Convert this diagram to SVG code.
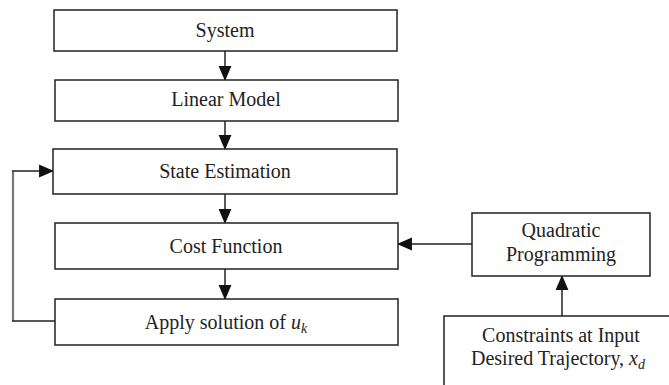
<svg xmlns="http://www.w3.org/2000/svg" width="669" height="385" viewBox="0 0 669 385">
<style>
.box{fill:#fff;stroke:#222;stroke-width:1.5}
.t{font-family:'Liberation Serif','DejaVu Serif',Tinos,serif;font-size:20px;fill:#222;text-anchor:middle}
.c{fill:none;stroke:#222;stroke-width:1.5}
.g{fill:none;stroke:#777;stroke-width:2.2}
</style>
<defs>
<marker id="ah" markerUnits="userSpaceOnUse" markerWidth="15" markerHeight="14" viewBox="0 0 14 12" refX="13" refY="6" orient="auto">
<path d="M0,0 L14,6 L0,12 Z" fill="#111"/>
</marker>
</defs>
<rect width="669" height="385" fill="#fff"/>
<g id="connectors">
<line class="c" x1="225" y1="51" x2="225" y2="80" marker-end="url(#ah)"/>
<line class="c" x1="225" y1="121" x2="225" y2="149" marker-end="url(#ah)"/>
<line class="c" x1="225" y1="194" x2="225" y2="223" marker-end="url(#ah)"/>
<line class="c" x1="225" y1="269" x2="225" y2="299" marker-end="url(#ah)"/>
<line class="c" x1="472" y1="244" x2="398" y2="244" marker-end="url(#ah)"/>
<line class="c" x1="562" y1="316" x2="562" y2="276" marker-end="url(#ah)"/>
<line class="g" x1="13" y1="321" x2="13" y2="171"/>
<line class="c" x1="55" y1="321" x2="12" y2="321"/>
<line class="c" x1="12" y1="171" x2="53" y2="171" marker-end="url(#ah)"/>
</g>
<g id="system">
<rect class="box" x="54" y="10" width="343" height="41"/>
<text class="t" x="225" y="37" font-family="Liberation Serif, serif">System</text>
</g>
<g id="linear-model">
<rect class="box" x="55" y="80" width="343" height="41"/>
<text class="t" x="226" y="106" font-family="Liberation Serif, serif">Linear Model</text>
</g>
<g id="state-estimation">
<rect class="box" x="53" y="149" width="344" height="45"/>
<text class="t" x="225" y="178" font-family="Liberation Serif, serif">State Estimation</text>
</g>
<g id="cost-function">
<rect class="box" x="55" y="223" width="343" height="46"/>
<text class="t" x="226" y="252.5" font-family="Liberation Serif, serif">Cost Function</text>
</g>
<g id="apply-solution">
<rect class="box" x="55" y="299" width="343" height="46"/>
<text class="t" x="226" y="328.5" font-family="Liberation Serif, serif">Apply solution of <tspan font-style="italic">u</tspan><tspan font-style="italic" font-size="14" dy="4">k</tspan></text>
</g>
<g id="quadratic-programming">
<rect class="box" x="472" y="213" width="178" height="63"/>
<text class="t" x="561" y="237" font-family="Liberation Serif, serif">Quadratic</text>
<text class="t" x="561" y="261" font-family="Liberation Serif, serif">Programming</text>
</g>
<g id="constraints">
<rect class="box" x="444" y="316" width="240" height="100"/>
<text class="t" x="561" y="342" font-family="Liberation Serif, serif">Constraints at Input</text>
<text class="t" x="558" y="365" font-family="Liberation Serif, serif">Desired Trajectory, <tspan font-style="italic">x</tspan><tspan font-style="italic" font-size="14" dy="4">d</tspan></text>
</g>
</svg>
